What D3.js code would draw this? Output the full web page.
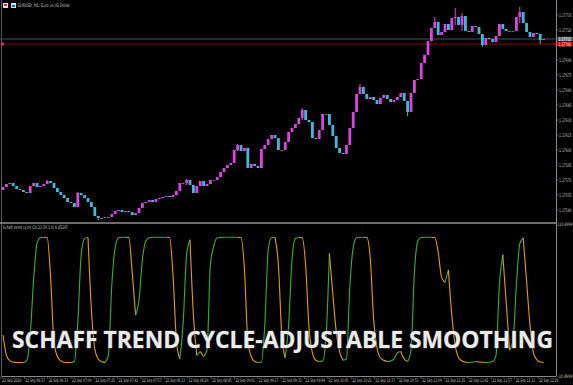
<!DOCTYPE html>
<html>
<head>
<meta charset="utf-8">
<script src="https://cdn.jsdelivr.net/npm/d3@7"></script>
<style>
  html, body { margin: 0; padding: 0; background: #000; }
  svg { display: block; }
  .tiny { font-family: "DejaVu Sans", sans-serif; font-size: 4.8px; fill: #c8c8c8; }
</style>
</head>
<body>
<div id="chart"></div>
<script>
// M1 closes (open = previous close)
var firstOpen = 1.17560;
var closes = [
  1.17563, 1.17566, 1.17567, 1.17564, 1.17561, 1.17560, 1.17558, 1.17557, 1.17564, 1.17567,
  1.17563, 1.17564, 1.17566, 1.17569, 1.17567, 1.17562, 1.17558, 1.17555, 1.17552, 1.17548,
  1.17547, 1.17543, 1.17557, 1.17555, 1.17552, 1.17548, 1.17543, 1.17534, 1.17532, 1.17532,
  1.17533, 1.17533, 1.17536, 1.17539, 1.17540, 1.17538, 1.17539, 1.17538, 1.17535, 1.17537,
  1.17542, 1.17547, 1.17548, 1.17550, 1.17548, 1.17551, 1.17552, 1.17553, 1.17554, 1.17553,
  1.17555, 1.17559, 1.17567, 1.17567, 1.17570, 1.17565, 1.17557, 1.17564, 1.17569, 1.17564,
  1.17566, 1.17570, 1.17570, 1.17573, 1.17578, 1.17582, 1.17585, 1.17587, 1.17600, 1.17605,
  1.17599, 1.17602, 1.17582, 1.17586, 1.17584, 1.17582, 1.17601, 1.17605, 1.17611, 1.17615,
  1.17612, 1.17600, 1.17600, 1.17608, 1.17618, 1.17622, 1.17626, 1.17632, 1.17640, 1.17630,
  1.17628, 1.17612, 1.17611, 1.17620, 1.17636, 1.17636, 1.17625, 1.17614, 1.17602, 1.17597,
  1.17596, 1.17605, 1.17622, 1.17638, 1.17656, 1.17663, 1.17656, 1.17651, 1.17653, 1.17650,
  1.17646, 1.17652, 1.17655, 1.17651, 1.17648, 1.17650, 1.17653, 1.17657, 1.17649, 1.17638,
  1.17657, 1.17670, 1.17671, 1.17687, 1.17695, 1.17709, 1.17722, 1.17728, 1.17715, 1.17718,
  1.17726, 1.17720, 1.17732, 1.17733, 1.17725, 1.17734, 1.17719, 1.17718, 1.17724, 1.17723,
  1.17716, 1.17705, 1.17712, 1.17711, 1.17708, 1.17714, 1.17726, 1.17721, 1.17719, 1.17719,
  1.17719, 1.17733, 1.17738, 1.17727, 1.17718, 1.17713, 1.17717, 1.17716, 1.17710, 1.17711
];
// notable wicks: [bar, high, low]
var wicks = [
  [13, 1.17570, 1.17566], [22, 1.17558, 1.17543], [28, 1.17532, 1.17530], [54, 1.17571, 1.17565],
  [69, 1.17606, 1.17599], [88, 1.17642, 1.17630], [105, 1.17666, 1.17656], [119, 1.17649, 1.17634],
  [127, 1.17733, 1.17722], [133, 1.17742, 1.17725], [135, 1.17737, 1.17719], [141, 1.17716, 1.17703],
  [152, 1.17743, 1.17727], [158, 1.17716, 1.17706]
];

// Schaff trend cycle, same bars
var stc = [
  22, 6, 1.5, 0.5, 0.3, 0.2, 0.2, 2, 22, 66,
  95, 99.6, 99.9, 99.8, 68, 16, 5, 1.5, 0.4, 0.2,
  0.2, 1, 32, 86, 99, 99.7, 42, 11, 3, 0.8,
  0.3, 6, 62, 92, 99.5, 99.9, 99.9, 99.8, 72, 38,
  50, 82, 97, 99.6, 99.9, 99.9, 99.9, 99.9, 99.9, 99.8,
  70, 18, 3, 32, 86, 98, 38, 6, 9, 5,
  10, 78, 93, 99.5, 99.8, 99.9, 99.9, 99.9, 99.9, 99.9,
  99.8, 75, 18, 5, 1, 0.3, 0.5, 30, 90, 99.7,
  99.8, 78, 22, 4, 30, 82, 99, 99.8, 99.6, 78,
  28, 8, 2, 1, 1.5, 20, 87, 55, 25, 9,
  2, 3, 60, 92, 99.5, 99.9, 99.9, 99.7, 84, 35,
  12, 4, 2, 1, 1.5, 3, 8, 9, 3, 1,
  10, 72, 97, 99.8, 99.9, 99.9, 99.9, 99.8, 88, 68,
  64, 74, 38, 14, 4, 1.5, 0.6, 0.3, 0.5, 1,
  0.7, 0.4, 0.3, 0.5, 1, 6, 62, 86, 48, 10,
  18, 62, 95, 99.5, 65, 30, 8, 2.5, 0.6, 0.3
];

var priceTicks = [1.17735, 1.17720, 1.17705, 1.17690, 1.17675, 1.17660, 1.17645,
                  1.17630, 1.17615, 1.17600, 1.17585, 1.17570, 1.17555, 1.17540];
var redLevel = 1.17706;
var stcTicks = [110.4999, -10.4999];
var timeTicks = ["06:21", "06:37", "06:53", "07:09", "07:25", "07:41", "07:57", "08:13",
                 "08:29", "08:45", "09:01", "09:17", "09:33", "09:49", "10:05", "10:21",
                 "10:37", "10:53", "11:09", "11:25", "11:41", "11:57", "12:13", "12:29"];

var W = 573, H = 385;
var axisX = 556.5;
var svg = d3.select("#chart").append("svg").attr("width", W).attr("height", H);
svg.append("rect").attr("width", W).attr("height", H).attr("fill", "#000");

var x = d3.scaleLinear().domain([0, closes.length - 1]).range([3, 543.6]);
var y = d3.scaleLinear().domain([1.17750, 1.17531]).range([0, 219]);
var yI = d3.scaleLinear().domain([-10.4999, 110.4999]).range([376, 224]);
var parseT = d3.timeParse("%H:%M");
var xt = d3.scaleTime().domain([parseT(timeTicks[0]), parseT(timeTicks[timeTicks.length - 1])]).range([1, 538]);

// squeeze a tiny label into a given width (MT fonts are narrow)
function tinyText(parent, tx, ty, w, str, color) {
  var g = parent.append("g");
  var t = g.append("text").attr("class", "tiny").text(str);
  if (color) t.style("fill", color);
  var len = t.node().getComputedTextLength();
  g.attr("transform", "translate(" + tx + "," + ty + ") scale(" + (w / len) + ",1)");
  return t;
}

// frame
svg.append("line").attr("x1", 1.5).attr("x2", 1.5).attr("y1", 0).attr("y2", 376).attr("stroke", "#5c5c5c");
svg.append("line").attr("x1", axisX).attr("x2", axisX).attr("y1", 0).attr("y2", 376).attr("stroke", "#8a8a8a");
svg.append("line").attr("x1", 0).attr("x2", axisX).attr("y1", 223).attr("y2", 223).attr("stroke", "#8f8f8f").attr("stroke-width", 1.6);
svg.append("line").attr("x1", 1.5).attr("x2", axisX).attr("y1", 376.5).attr("y2", 376.5).attr("stroke", "#8a8a8a");

// bid / red level lines
var lastClose = closes[closes.length - 1];
svg.append("line").attr("x1", 0).attr("x2", axisX).attr("y1", y(lastClose)).attr("y2", y(lastClose))
  .attr("stroke", "#5d666e").attr("stroke-width", 0.8);
svg.append("line").attr("x1", 2).attr("x2", axisX).attr("y1", y(redLevel)).attr("y2", y(redLevel))
  .attr("stroke", "#b00000").attr("stroke-width", 0.8);
svg.append("rect").attr("x", 1).attr("y", y(redLevel) - 1.5).attr("width", 3).attr("height", 3).attr("fill", "#e03030");

// candles
function openOf(i) { return i ? closes[i - 1] : firstOpen; }
function candleColor(i) {
  var o = openOf(i), c = closes[i];
  if (c > o) return "#dc44e2";
  if (c < o) return "#3fb8de";
  return "#2aa02a";
}
var cg = svg.append("g");
cg.selectAll("line").data(wicks).enter().append("line")
  .attr("x1", function(d) { return x(d[0]); }).attr("x2", function(d) { return x(d[0]); })
  .attr("y1", function(d) { return y(d[1]); }).attr("y2", function(d) { return y(d[2]); })
  .attr("stroke", function(d) { return candleColor(d[0]); }).attr("stroke-width", 1);
cg.selectAll("rect").data(closes).enter().append("rect")
  .attr("x", function(d, i) { return x(i) - 1.4; })
  .attr("width", 2.8)
  .attr("y", function(d, i) { return y(Math.max(openOf(i), d)); })
  .attr("height", function(d, i) { return Math.max(1, Math.abs(y(openOf(i)) - y(d))); })
  .attr("fill", function(d, i) { return candleColor(i); });

// price axis
var pa = svg.append("g");
pa.selectAll("line").data(priceTicks).enter().append("line")
  .attr("x1", axisX).attr("x2", axisX + 2)
  .attr("y1", function(d) { return y(d); }).attr("y2", function(d) { return y(d); })
  .attr("stroke", "#8a8a8a").attr("stroke-width", 0.6);
priceTicks.forEach(function(d) { tinyText(pa, axisX + 2.5, y(d) + 1.7, 12.5, d.toFixed(5)); });

// current price boxes
svg.append("rect").attr("x", axisX + 1).attr("y", y(lastClose) - 2.2).attr("width", 15).attr("height", 4.4).attr("fill", "#6c767e");
tinyText(svg, axisX + 2, y(lastClose) + 1.7, 12.5, lastClose.toFixed(5), "#fff");
svg.append("rect").attr("x", axisX + 0.5).attr("y", y(redLevel) - 2.2).attr("width", 15.5).attr("height", 4.4).attr("fill", "#e00000");
svg.append("path").attr("d", "M" + (axisX - 2) + "," + (y(redLevel) - 1.5) + "l2,1.5l-2,1.5z").attr("fill", "#e00000");
tinyText(svg, axisX + 2, y(redLevel) + 1.7, 12.5, redLevel.toFixed(5), "#fff");

// header
svg.append("rect").attr("x", 3).attr("y", 3).attr("width", 5).attr("height", 5).attr("fill", "#d9e2f0");
svg.append("rect").attr("x", 4).attr("y", 4).attr("width", 3).attr("height", 2).attr("fill", "#d03030");
svg.append("rect").attr("x", 11).attr("y", 3).attr("width", 5).attr("height", 5).attr("fill", "#d9e2f0");
svg.append("rect").attr("x", 12).attr("y", 5).attr("width", 3).attr("height", 2).attr("fill", "#2060c0");
tinyText(svg, 18, 7.2, 52, "EURUSD, M1:  Euro vs US Dollar");

// STC line, green rising / orange falling
var dir = [0];
for (var i = 1; i < stc.length; i++) {
  dir.push(stc[i] > stc[i - 1] ? 1 : (stc[i] < stc[i - 1] ? -1 : dir[i - 1]));
}
var runs = [], cur = null;
for (var i = 1; i < stc.length; i++) {
  if (!cur || cur.dir !== dir[i]) {
    cur = { dir: dir[i], idx: [i - 1] };
    runs.push(cur);
  }
  cur.idx.push(i);
}
var stcLine = d3.line()
  .x(function(i) { return x(i); })
  .y(function(i) { return yI(stc[i]); })
  .curve(d3.curveMonotoneX);
svg.append("g").selectAll("path").data(runs).enter().append("path")
  .attr("d", function(r) { return stcLine(r.idx); })
  .attr("fill", "none")
  .attr("stroke", function(r) { return r.dir > 0 ? "#35b035" : "#e59c10"; })
  .attr("stroke-width", 1.1);

tinyText(svg, 3, 229, 65, "Schaff trend cycle (10,23,50,3,0) 6.85297");

// STC axis labels
stcTicks.forEach(function(d) { tinyText(svg, axisX + 1, yI(d) + 1.8, 15, d.toFixed(4)); });

// time axis
var ta = svg.append("g");
ta.selectAll("line").data(timeTicks).enter().append("line")
  .attr("x1", function(d) { return xt(parseT(d)); }).attr("x2", function(d) { return xt(parseT(d)); })
  .attr("y1", 376.5).attr("y2", 379).attr("stroke", "#8a8a8a").attr("stroke-width", 0.6);
timeTicks.forEach(function(d, i) {
  tinyText(ta, xt(parseT(d)) + 1, 382.2, 19.5, i === 0 ? "22 Sep 2020" : "22 Sep " + d);
});

// overlay title
svg.append("text")
  .attr("x", 12).attr("y", 348)
  .attr("textLength", 541).attr("lengthAdjust", "spacingAndGlyphs")
  .style("font-family", "'Open Sans', sans-serif")
  .style("font-weight", 700)
  .style("font-size", "23.5px")
  .attr("fill", "#ebebeb")
  .attr("stroke", "#4a4a4a").attr("stroke-width", 0.8).attr("paint-order", "stroke")
  .text("SCHAFF TREND CYCLE-ADJUSTABLE SMOOTHING");
</script>
</body>
</html>
